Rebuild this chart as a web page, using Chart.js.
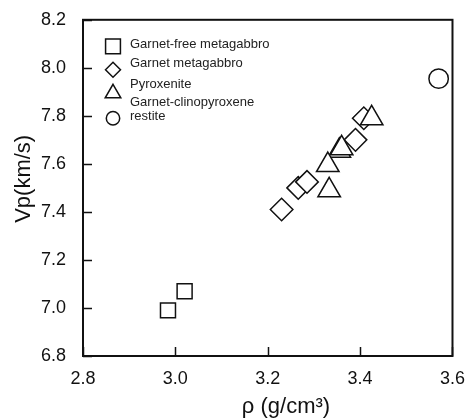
<!DOCTYPE html>
<html>
<head>
<meta charset="utf-8">
<title>Vp vs density</title>
<script src="https://cdn.jsdelivr.net/npm/chart.js@4.4.1/dist/chart.umd.min.js"></script>
<style>
    body { margin: 0; background: #fff; }
    #wrap { width: 469px; height: 419px; }
</style>
</head>
<body>
<div id="wrap"><canvas id="vpChart" width="469" height="419"></canvas></div>
<script>
// density (g/cm3) and Vp (km/s) per rock type
const garnetFreeRho = [2.984, 3.020];
const garnetFreeVp = [6.99, 7.07];
const garnetMetaRho = [3.230, 3.266, 3.285, 3.390, 3.408];
const garnetMetaVp = [7.41, 7.50, 7.525, 7.70, 7.79];
const pyroxeniteRho = [3.425, 3.355, 3.360, 3.330, 3.333];
const pyroxeniteVp = [7.79, 7.655, 7.665, 7.595, 7.49];
const restiteRho = [3.57];
const restiteVp = [7.955];

const xTicks = [2.8, 3.0, 3.2, 3.4, 3.6];
const yTicks = [6.8, 7.0, 7.2, 7.4, 7.6, 7.8, 8.0, 8.2];

const legendLabels = [
    { style: 'rect', lines: ['Garnet-free metagabbro'] },
    { style: 'rectRot', lines: ['Garnet metagabbro'] },
    { style: 'triangle', lines: ['Pyroxenite', 'Garnet-clinopyroxene'] },
    { style: 'circle', lines: ['restite'] }
];

const INK = '#111';
const FONT = '"Liberation Sans", Arial, sans-serif';

function toPoints(xs, ys) {
    return xs.map((x, i) => ({ x, y: ys[i] }));
}

function markerSet(label, xs, ys, style, radius, order) {
    return {
        label,
        data: toPoints(xs, ys),
        pointStyle: style,
        pointRadius: radius,
        pointBorderWidth: 1.5,
        pointBorderColor: INK,
        pointBackgroundColor: '#fff',
        order
    };
}

// frame, inward ticks, axis titles and the boxed-in legend
const decorations = {
    id: 'decorations',
    afterDraw(chart) {
        const { ctx, chartArea: a, scales } = chart;
        ctx.save();
        ctx.strokeStyle = INK;
        ctx.lineWidth = 2;
        ctx.strokeRect(a.left, a.top, a.right - a.left, a.bottom - a.top);

        ctx.lineWidth = 1.5;
        ctx.beginPath();
        scales.x.ticks.forEach((t, i) => {
            const px = Math.round(scales.x.getPixelForTick(i)) + 0.5;
            ctx.moveTo(px, a.bottom);
            ctx.lineTo(px, a.bottom - 9);
        });
        scales.y.ticks.forEach((t, i) => {
            const py = Math.round(scales.y.getPixelForTick(i)) + 0.5;
            ctx.moveTo(a.left, py);
            ctx.lineTo(a.left + 9, py);
        });
        ctx.stroke();

        // axis titles
        ctx.fillStyle = INK;
        ctx.font = '22px ' + FONT;
        ctx.textAlign = 'center';
        ctx.textBaseline = 'middle';
        ctx.fillText('ρ (g/cm³)', a.left + 203, 407);
        ctx.save();
        ctx.translate(24, a.top + 159);
        ctx.rotate(-Math.PI / 2);
        ctx.fillText('Vp(km/s)', 0, 0);
        ctx.restore();

        // legend
        const lx = a.left + 30;
        const tx = a.left + 47;
        const rows = [26.5, 50, 73.5, 98.5];
        const radii = [10.5, 7.5, 9, 6.7];
        ctx.font = '13px ' + FONT;
        ctx.textAlign = 'left';
        legendLabels.forEach((item, i) => {
            const cy = a.top + rows[i];
            ctx.fillStyle = '#fff';
            ctx.strokeStyle = INK;
            ctx.lineWidth = 1.5;
            Chart.helpers.drawPoint(ctx, {
                pointStyle: item.style,
                radius: radii[i],
                rotation: 0,
                borderWidth: 1.5
            }, lx, cy);
            ctx.fillStyle = '#222';
            if (item.lines.length === 1) {
                ctx.fillText(item.lines[0], tx, cy - (i === 1 ? 6 : 2));
            } else {
                ctx.fillText(item.lines[0], tx, cy - 9);
                ctx.fillText(item.lines[1], tx, cy + 9);
            }
        });
        ctx.restore();
    }
};

new Chart(document.getElementById('vpChart'), {
    type: 'scatter',
    data: {
        datasets: [
            markerSet('Garnet-free metagabbro', garnetFreeRho, garnetFreeVp, 'rect', 10.6, 3),
            markerSet('Garnet metagabbro', garnetMetaRho, garnetMetaVp, 'rectRot', 11.3, 2),
            markerSet('Pyroxenite Garnet-clinopyroxene', pyroxeniteRho, pyroxeniteVp, 'triangle', 13, 1),
            markerSet('restite', restiteRho, restiteVp, 'circle', 9.7, 0)
        ]
    },
    options: {
        responsive: false,
        animation: false,
        events: [],
        layout: { padding: { top: 15, right: 14, left: 0, bottom: 0 } },
        plugins: {
            legend: { display: false },
            tooltip: { enabled: false }
        },
        scales: {
            x: {
                type: 'linear',
                min: 2.8,
                max: 3.6,
                afterBuildTicks: scale => { scale.ticks = xTicks.map(v => ({ value: v })); },
                afterFit: scale => { scale.height = 63; },
                grid: { display: false },
                border: { display: false },
                ticks: {
                    color: INK,
                    font: { family: FONT, size: 18 },
                    padding: 4,
                    maxRotation: 0,
                    callback: v => v.toFixed(1)
                }
            },
            y: {
                type: 'linear',
                min: 6.8,
                max: 8.2,
                afterBuildTicks: scale => { scale.ticks = yTicks.map(v => ({ value: v })); },
                afterFit: scale => { scale.width = 83; },
                grid: { display: false },
                border: { display: false },
                ticks: {
                    color: INK,
                    font: { family: FONT, size: 18 },
                    padding: 9,
                    callback: v => v.toFixed(1)
                }
            }
        }
    },
    plugins: [decorations]
});
</script>
</body>
</html>
